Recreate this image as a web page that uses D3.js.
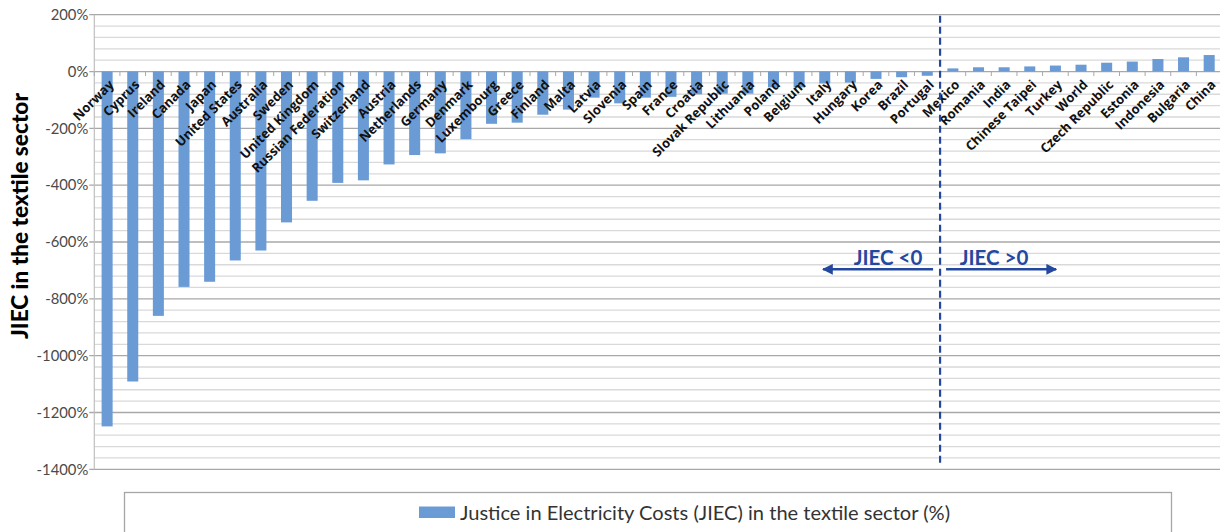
<!DOCTYPE html>
<html>
<head>
<meta charset="utf-8">
<script src="https://cdn.jsdelivr.net/npm/d3@7"></script>
<style>
  html, body { margin: 0; padding: 0; background: #fff; }
  svg { display: block; }
</style>
</head>
<body>
<svg id="chart" width="1220" height="532"></svg>
<script>
// Countries in plotted order
const countries = [
  "Norway", "Cyprus", "Ireland", "Canada", "Japan", "United States", "Australia",
  "Sweden", "United Kingdom", "Russian Federation", "Switzerland", "Austria",
  "Netherlands", "Germany", "Denmark", "Luxembourg", "Greece", "Finland", "Malta",
  "Latvia", "Slovenia", "Spain", "France", "Croatia", "Slovak Republic", "Lithuania",
  "Poland", "Belgium", "Italy", "Hungary", "Korea", "Brazil", "Portugal",
  "Mexico", "Romania", "India", "Chinese Taipei", "Turkey", "World", "Czech Republic",
  "Estonia", "Indonesia", "Bulgaria", "China"
];

// JIEC in the textile sector (%)
const jiec = [
  -1249, -1091, -860, -758, -740, -665, -630,
  -531, -455, -392, -383, -327,
  -294, -288, -238, -184, -180, -152, -134,
  -92, -112, -92, -89, -80, -78, -78,
  -56, -56, -42, -39, -26, -20, -15,
  11, 15, 15, 18, 21, 24, 31,
  35, 44, 50, 58
];

// Value axis
const yDomain = [-1400, 200];
const yMajorTicks = [200, 0, -200, -400, -600, -800, -1000, -1200, -1400];
const yMinorStep = 40;

const legendLabel = "Justice in Electricity Costs (JIEC) in the textile sector (%)";
const axisTitle = "JIEC in the textile sector";
const arrowLabels = ["JIEC <0", "JIEC >0"];

const svg = d3.select("#chart");
const plot = { left: 94.3, right: 1222, top: 14.7, bottom: 469.3 };
const font = "Lato, 'Open Sans', sans-serif";
const labelFont = "'Open Sans', Lato, sans-serif";

const x = d3.scaleBand()
  .domain(countries)
  .range([plot.left, plot.right])
  .paddingInner(0.57)
  .paddingOuter(0.285);

const y = d3.scaleLinear().domain(yDomain).range([plot.bottom, plot.top]);

const barColor = "#6a9bd5";
const blue = "#2448a0";

// Gridlines: light minor lines, darker at each labelled value
const gridVals = d3.range(yDomain[0], yDomain[1] + 1, yMinorStep);
svg.append("g").selectAll("line")
  .data(gridVals.filter(v => v % 200 !== 0))
  .join("line")
  .attr("x1", plot.left).attr("x2", plot.right)
  .attr("y1", d => y(d)).attr("y2", d => y(d))
  .attr("stroke", "#d9d9d9").attr("stroke-width", 1.3);
svg.append("g").selectAll("line")
  .data(yMajorTicks)
  .join("line")
  .attr("x1", plot.left - 5).attr("x2", plot.right)
  .attr("y1", d => y(d)).attr("y2", d => y(d))
  .attr("stroke", "#a8a8a8").attr("stroke-width", 1.3);

// Vertical value axis line
svg.append("line")
  .attr("x1", plot.left).attr("x2", plot.left)
  .attr("y1", y(yDomain[1])).attr("y2", y(yDomain[0]))
  .attr("stroke", "#bfbfbf").attr("stroke-width", 1.2);

// Value axis labels
const yAxis = d3.axisLeft(y).tickValues(yMajorTicks).tickSize(0).tickPadding(6)
  .tickFormat(d => d + "%");
svg.append("g")
  .attr("transform", `translate(${plot.left},0)`)
  .call(yAxis)
  .call(g => g.select(".domain").remove())
  .call(g => g.selectAll("text")
    .attr("font-family", font)
    .attr("font-size", 14.8)
    .attr("fill", "#4a4a4a"));

// Bars
svg.append("g").selectAll("rect")
  .data(countries.map((c, i) => ({ c, v: jiec[i] })))
  .join("rect")
  .attr("x", d => x(d.c))
  .attr("width", x.bandwidth())
  .attr("y", d => y(Math.max(0, d.v)))
  .attr("height", d => Math.abs(y(d.v) - y(0)))
  .attr("fill", barColor);

// Category tick marks along the zero line
const step = x.step();
const boundaries = d3.range(countries.length + 1).map(i => plot.left + i * step);
svg.append("g").selectAll("line")
  .data(boundaries)
  .join("line")
  .attr("x1", d => d).attr("x2", d => d)
  .attr("y1", y(0)).attr("y2", y(0) + 4.5)
  .attr("stroke", "#a8a8a8").attr("stroke-width", 1);

// Category labels, rotated
svg.append("g").selectAll("text")
  .data(countries)
  .join("text")
  .attr("transform", d => `translate(${x(d) + x.bandwidth() / 2 + 7.5},${y(0) + 14}) rotate(-45)`)
  .attr("text-anchor", "end")
  .attr("font-family", labelFont)
  .attr("font-weight", 700)
  .attr("font-size", 13)
  .attr("fill", "#111")
  .text(d => d);

// Axis title
svg.append("text")
  .attr("transform", `translate(27.5,216) rotate(-90)`)
  .attr("text-anchor", "middle")
  .attr("font-family", font)
  .attr("font-weight", 900)
  .attr("font-size", 22.6)
  .attr("fill", "#000")
  .text(axisTitle);

// Divider between negative and positive JIEC
const splitX = plot.left + countries.findIndex(c => c === "Mexico") * step;
svg.append("line")
  .attr("x1", splitX).attr("x2", splitX)
  .attr("y1", plot.top + 1).attr("y2", plot.bottom - 4)
  .attr("stroke", blue).attr("stroke-width", 2.2)
  .attr("stroke-dasharray", "7,4");

// Direction arrows
const defs = svg.append("defs");
defs.append("marker")
  .attr("id", "head")
  .attr("viewBox", "0 0 10 10")
  .attr("refX", 9).attr("refY", 5)
  .attr("markerWidth", 4.5).attr("markerHeight", 4.5)
  .attr("markerUnits", "strokeWidth")
  .attr("orient", "auto")
  .append("path").attr("d", "M0,0 L10,5 L0,10 z").attr("fill", blue);

const arrowY = 269.3;
svg.append("line")
  .attr("x1", splitX - 7).attr("x2", splitX - 117)
  .attr("y1", arrowY).attr("y2", arrowY)
  .attr("stroke", blue).attr("stroke-width", 2.4)
  .attr("marker-end", "url(#head)");
svg.append("line")
  .attr("x1", splitX + 6).attr("x2", splitX + 116)
  .attr("y1", arrowY).attr("y2", arrowY)
  .attr("stroke", blue).attr("stroke-width", 2.4)
  .attr("marker-end", "url(#head)");

svg.append("text")
  .attr("x", splitX - 52).attr("y", 265)
  .attr("text-anchor", "middle")
  .attr("font-family", font)
  .attr("font-weight", 700).attr("font-size", 20.5)
  .attr("fill", blue)
  .text(arrowLabels[0]);
svg.append("text")
  .attr("x", splitX + 54).attr("y", 265)
  .attr("text-anchor", "middle")
  .attr("font-family", font)
  .attr("font-weight", 700).attr("font-size", 20.5)
  .attr("fill", blue)
  .text(arrowLabels[1]);

// Legend
svg.append("rect")
  .attr("x", 124.5).attr("y", 492.5)
  .attr("width", 1047).attr("height", 60)
  .attr("fill", "#fff").attr("stroke", "#a6a6a6").attr("stroke-width", 1.3);
svg.append("rect")
  .attr("x", 419).attr("y", 506.5)
  .attr("width", 36).attr("height", 11.5)
  .attr("fill", barColor);
svg.append("text")
  .attr("x", 460).attr("y", 519.5)
  .attr("font-family", font)
  .attr("font-size", 19)
  .attr("textLength", 490)
  .attr("lengthAdjust", "spacingAndGlyphs")
  .attr("fill", "#333")
  .text(legendLabel);
</script>
</body>
</html>
